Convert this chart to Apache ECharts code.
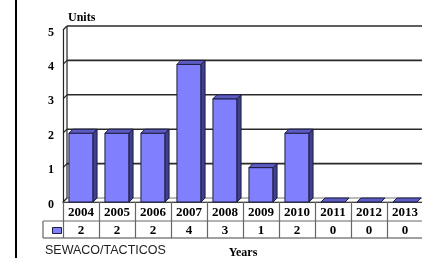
<!DOCTYPE html>
<html>
<head>
<meta charset="utf-8">
<script src="https://cdn.jsdelivr.net/npm/echarts@6/dist/echarts.min.js"></script>
<style>
	html, body { margin: 0; padding: 0; background: #fff; }
	#chart { width: 422px; height: 258px; }
</style>
</head>
<body>
<div id="chart"></div>
<script>
var years = ['2004', '2005', '2006', '2007', '2008', '2009', '2010', '2011', '2012', '2013'];
var units = [2, 2, 2, 4, 3, 1, 2, 0, 0, 0];
var yTicks = [0, 1, 2, 3, 4, 5];
var seriesName = 'SEWACO/TACTICOS';

var DEPTH = 4;
var SERIF = '"Liberation Serif", "DejaVu Serif", serif';
var SANS = '"Liberation Sans", Arial, sans-serif';

// back wall, left wall and floor, drawn once per tick value
function renderWall(params, api) {
	var cs = params.coordSys;
	var v = api.value(0);
	var p = api.coord([0, v]);
	var left = cs.x, right = cs.x + cs.width;
	var kids = [];
	if (v === 0) {
		kids.push({
			type: 'polygon',
			shape: { points: [[left, p[1]], [left + DEPTH, p[1] - DEPTH], [right + DEPTH, p[1] - DEPTH], [right, p[1]]] },
			style: { fill: '#fff', stroke: '#777', lineWidth: 1 }
		});
		kids.push({
			type: 'line',
			shape: { x1: left + DEPTH, y1: cs.y - DEPTH, x2: left + DEPTH, y2: p[1] - DEPTH },
			style: { stroke: '#222', lineWidth: 1.2 }
		});
	} else {
		kids.push({
			type: 'line',
			shape: { x1: left + DEPTH, y1: p[1] - DEPTH, x2: right + DEPTH, y2: p[1] - DEPTH },
			style: { stroke: '#2a2a2a', lineWidth: 1.6 }
		});
	}
	kids.push({
		type: 'line',
		shape: { x1: left, y1: p[1], x2: left + DEPTH, y2: p[1] - DEPTH },
		style: { stroke: '#222', lineWidth: 1.2 }
	});
	return { type: 'group', children: kids };
}

function renderBar(params, api) {
	var idx = api.value(0), val = api.value(1);
	var top = api.coord([idx, val]);
	var base = api.coord([idx, 0]);
	var w = api.size([1, 0])[0] * 0.67;
	var x0 = top[0] - w / 2, x1 = top[0] + w / 2;
	var y0 = top[1], y1 = base[1];
	var edge = { stroke: '#1c1c40', lineWidth: 1 };
	var kids = [];
	if (y1 - y0 > 0.5) {
		kids.push({
			type: 'rect',
			shape: { x: x0, y: y0, width: w, height: y1 - y0 },
			style: echarts.util.extend({ fill: '#8080ff' }, edge)
		});
		kids.push({
			type: 'polygon',
			shape: { points: [[x1, y0], [x1 + DEPTH, y0 - DEPTH], [x1 + DEPTH, y1 - DEPTH], [x1, y1]] },
			style: echarts.util.extend({ fill: '#40408c' }, edge)
		});
	}
	kids.push({
		type: 'polygon',
		shape: { points: [[x0, y0], [x0 + DEPTH, y0 - DEPTH], [x1 + DEPTH, y0 - DEPTH], [x1, y0]] },
		style: echarts.util.extend({ fill: '#5c5cc4' }, edge)
	});
	return { type: 'group', children: kids };
}

var chart = echarts.init(document.getElementById('chart'), null, { renderer: 'canvas' });

var option = {
	animation: false,
	backgroundColor: '#fff',
	grid: { left: 63, right: -1, top: 30, bottom: 56, outerBoundsMode: 'none', containLabel: false },
	legend: {
		data: [seriesName],
		left: 52, top: 227,
		padding: 0,
		itemWidth: 9, itemHeight: 6,
		icon: 'rect',
		itemStyle: { color: '#8080ff', borderColor: '#1c1c40', borderWidth: 1 },
		formatter: function () { return ''; },
		selectedMode: false
	},
	xAxis: {
		type: 'category',
		data: years,
		boundaryGap: true,
		name: 'Years',
		nameLocation: 'middle',
		nameGap: 45,
		nameTextStyle: { fontFamily: SERIF, fontWeight: 'bold', fontSize: 12, color: '#000' },
		axisLine: { lineStyle: { color: '#111', width: 1.2 } },
		axisTick: { show: true, interval: 0, length: 36, lineStyle: { color: '#666', width: 1.2 } },
		axisLabel: {
			interval: 0,
			margin: 1,
			formatter: function (val, i) {
				return '{y|' + val + '}\n{v|' + units[i] + '}';
			},
			rich: {
				y: { fontFamily: SERIF, fontWeight: 'bold', fontSize: 13, lineHeight: 19, color: '#000' },
				v: { fontFamily: SERIF, fontWeight: 'bold', fontSize: 13, lineHeight: 17, color: '#000' }
			}
		}
	},
	yAxis: {
		type: 'value',
		min: 0, max: 5, interval: 1,
		axisLine: { show: true, lineStyle: { color: '#222', width: 1.2 } },
		axisTick: { show: false },
		splitLine: { show: false },
		axisLabel: {
			margin: 9,
			verticalAlign: 'top',
			lineHeight: 5,
			fontFamily: SERIF, fontWeight: 'bold', fontSize: 12, color: '#000'
		}
	},
	series: [
		{
			type: 'custom',
			name: 'wall',
			renderItem: renderWall,
			data: yTicks.map(function (t) { return [t]; }),
			encode: { y: 0 },
			silent: true,
			z: 1
		},
		{
			type: 'custom',
			name: seriesName,
			renderItem: renderBar,
			data: units.map(function (v, i) { return [i, v]; }),
			encode: { x: 0, y: 1 },
			itemStyle: { color: '#8080ff' },
			z: 3
		}
	],
	graphic: [
		{ type: 'rect', shape: { x: 15, y: 0, width: 2, height: 258 }, style: { fill: '#000' } },
		{ type: 'text', left: 68, top: 12, style: { text: 'Units', font: 'bold 12px ' + SERIF, fill: '#000' } },
		{ type: 'text', left: 45, top: 244, style: { text: seriesName, font: '12.5px ' + SANS, fill: '#222' } },
		{ type: 'line', shape: { x1: 43, y1: 221, x2: 423, y2: 221 }, style: { stroke: '#666', lineWidth: 1.2 } },
		{ type: 'line', shape: { x1: 43, y1: 238, x2: 423, y2: 238 }, style: { stroke: '#444', lineWidth: 1.2 } },
		{ type: 'line', shape: { x1: 43, y1: 221, x2: 43, y2: 238 }, style: { stroke: '#666', lineWidth: 1.2 } }
	]
};

chart.setOption(option);
</script>
</body>
</html>
